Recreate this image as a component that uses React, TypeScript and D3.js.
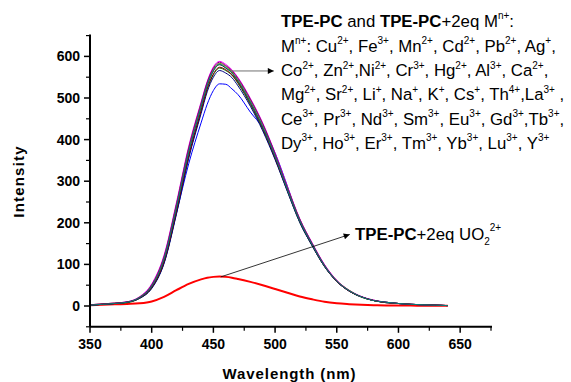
import React from "react";
import * as d3 from "d3";

const W = 571;
const H = 382;

const wavelengths = [350,360,370,380,390,400,410,420,430,440,445,450,455,460,465,470,480,490,500,510,520,530,540,550,560,570,580,590,600,610,620,630,640];

const bundleSpectra: number[][] = [
  [2,4,6,9,20,48,112,235,370,478,530,565,580,572,560,540,490,430,360,280,205,148,97,60,37,22,13,9,6,4,3,2,1],
  [3,5,7,10,22,53,122,248,384,490,540,575,588,581,568,549,499,440,368,287,210,152,100,62,38,23,14,9,6,4,3,2,1],
  [2,4,6,8,18,43,104,224,358,467,520,556,572,566,555,535,484,424,354,276,201,145,95,59,36,21,13,8,6,4,3,2,1],
  [3,5,7,9,21,50,117,242,378,485,535,569,583,576,563,544,495,436,365,284,208,150,98,61,38,22,13,9,6,4,3,2,1],
  [2,4,6,9,18,42,102,220,355,462,515,550,566,560,549,529,480,421,352,275,201,145,95,59,36,22,13,9,6,4,3,2,1],
  [3,5,7,10,21,51,119,244,380,487,538,572,586,578,566,547,497,438,366,285,209,151,99,61,37,22,14,9,6,4,3,2,1],
  [2,4,6,9,19,45,107,228,362,470,523,558,574,568,556,537,487,428,357,279,204,147,96,59,36,22,13,8,6,4,3,2,1],
  [2,4,6,9,20,48,113,236,371,479,531,566,581,573,561,541,490,431,360,280,205,148,97,60,37,22,13,9,6,4,3,2,1],
];
const bundleColors = ["#000000", "#FF00FF", "#008000", "#808000", "#000080", "#800080", "#800000", "#008080"];

const lowSpectrum = [2,4,6,9,19,44,104,222,342,440,485,518,534,533,522,508,466,428,368,288,203,146,96,59,36,22,13,8,6,4,3,2,1];
const lowColor = "#0000FF";

const uranylSpectrum = [2,3,4,5,6.5,11,22,38,53,64,68,70,71,70,68,65,58,50,41,32,23,16,10,6.5,4.5,3,2,1.5,1,1,0.5,0.5,0.5];
const uranylColor = "#FF0000";

const xTicks = [350, 400, 450, 500, 550, 600, 650];
const yTicks = [0, 100, 200, 300, 400, 500, 600];
const xMinorTicks = [375, 425, 475, 525, 575, 625, 675];
const yMinorTicks = [-50, 50, 150, 250, 350, 450, 550, 650];

const ionLines: [string, string][][] = [
  [["M", ""], ["n+", "sup"], [": Cu", ""], ["2+", "sup"], [", Fe", ""], ["3+", "sup"], [", Mn", ""], ["2+", "sup"], [", Cd", ""], ["2+", "sup"], [", Pb", ""], ["2+", "sup"], [", Ag", ""], ["+", "sup"], [",", ""]],
  [["Co", ""], ["2+", "sup"], [", Zn", ""], ["2+", "sup"], [",Ni", ""], ["2+", "sup"], [", Cr", ""], ["3+", "sup"], [", Hg", ""], ["2+", "sup"], [", Al", ""], ["3+", "sup"], [", Ca", ""], ["2+", "sup"], [",", ""]],
  [["Mg", ""], ["2+", "sup"], [", Sr", ""], ["2+", "sup"], [", Li", ""], ["+", "sup"], [", Na", ""], ["+", "sup"], [", K", ""], ["+", "sup"], [", Cs", ""], ["+", "sup"], [", Th", ""], ["4+", "sup"], [",La", ""], ["3+", "sup"], [" ,", ""]],
  [["Ce", ""], ["3+", "sup"], [", Pr", ""], ["3+", "sup"], [", Nd", ""], ["3+", "sup"], [", Sm", ""], ["3+", "sup"], [", Eu", ""], ["3+", "sup"], [", Gd", ""], ["3+", "sup"], [",Tb", ""], ["3+", "sup"], [",", ""]],
  [["Dy", ""], ["3+", "sup"], [", Ho", ""], ["3+", "sup"], [", Er", ""], ["3+", "sup"], [", Tm", ""], ["3+", "sup"], [", Yb", ""], ["3+", "sup"], [", Lu", ""], ["3+", "sup"], [", Y", ""], ["3+", "sup"]],
];

const FONT = "Arial, 'Liberation Sans', sans-serif";
const ANN = 16.8;
const SUP = 10;

export default function App() {
  const left = 90, right = 491, top = 35.6, bottom = 326.8;
  const x = d3.scaleLinear().domain([350, 675]).range([left, right]);
  const y = d3.scaleLinear().domain([-50, 650]).range([bottom, top]);

  const line = d3
    .line<number>()
    .x((_, i) => x(wavelengths[i]))
    .y((d) => y(d))
    .curve(d3.curveMonotoneX);

  const renderRuns = (runs: [string, string][]) =>
    runs.map(([t, k], i) =>
      k === "sup" ? (
        <tspan key={i} fontSize={SUP} dy={-7.5}>{t}</tspan>
      ) : (
        <tspan key={i} dy={i > 0 && runs[i - 1][1] === "sup" ? 7.5 : 0}>{t}</tspan>
      )
    );

  const a1s = [x(464), y(565)];
  const a1e = [x(499), y(565)];
  const a2s = [x(456), y(70)];
  const a2e = [x(560.5), y(172)];

  return (
    <svg width={W} height={H} style={{ position: "absolute", left: 0, top: 0, background: "#fff" }} fontFamily={FONT}>
      <defs>
        <marker id="arr" viewBox="0 0 10 10" refX="10" refY="5" markerWidth="8" markerHeight="6" markerUnits="userSpaceOnUse" orient="auto">
          <path d="M0,0 L10,5 L0,10 z" fill="#000" />
        </marker>
        <marker id="arr2" viewBox="0 0 10 10" refX="10" refY="5" markerWidth="9" markerHeight="6" markerUnits="userSpaceOnUse" orient="auto">
          <path d="M0,0 L10,5 L0,10 z" fill="#000" />
        </marker>
      </defs>

      {/* curves */}
      <path d={line(uranylSpectrum) || ""} fill="none" stroke={uranylColor} strokeWidth={2} />
      <path d={line(lowSpectrum) || ""} fill="none" stroke={lowColor} strokeWidth={1} />
      {bundleSpectra.map((s, i) => (
        <path key={i} d={line(s) || ""} fill="none" stroke={bundleColors[i]} strokeWidth={1} />
      ))}

      {/* axes */}
      <line x1={left} x2={left} y1={top - 1} y2={bottom} stroke="#000" strokeWidth={2} />
      <line x1={left} x2={right + 1} y1={bottom} y2={bottom} stroke="#000" strokeWidth={2} />
      {xTicks.map((t) => (
        <g key={t}>
          <line x1={x(t)} x2={x(t)} y1={bottom} y2={bottom + 6} stroke="#000" strokeWidth={1.5} />
          <text x={x(t)} y={349} textAnchor="middle" fontSize={14} fontWeight="bold">{t}</text>
        </g>
      ))}
      {xMinorTicks.map((t) => (
        <line key={t} x1={x(t)} x2={x(t)} y1={bottom} y2={bottom + 4} stroke="#000" strokeWidth={1.2} />
      ))}
      {yTicks.map((t) => (
        <g key={t}>
          <line x1={left - 6} x2={left} y1={y(t)} y2={y(t)} stroke="#000" strokeWidth={1.5} />
          <text x={80} y={y(t) + 5} textAnchor="end" fontSize={14} fontWeight="bold">{t}</text>
        </g>
      ))}
      {yMinorTicks.map((t) => (
        <line key={t} x1={left - 4} x2={left} y1={y(t)} y2={y(t)} stroke="#000" strokeWidth={1.2} />
      ))}

      <text x={289.5} y={379} textAnchor="middle" fontSize={15} fontWeight="bold" letterSpacing={0.9}>Wavelength (nm)</text>
      <text transform={`translate(24,181.5) rotate(-90)`} textAnchor="middle" fontSize={15} fontWeight="bold" letterSpacing={1.2}>Intensity</text>

      {/* arrows */}
      <line x1={a1s[0]} y1={a1s[1]} x2={a1e[0]} y2={a1e[1]} stroke="#707070" strokeWidth={1} markerEnd="url(#arr)" />
      <line x1={a2s[0]} y1={a2s[1]} x2={a2e[0]} y2={a2e[1]} stroke="#000" strokeWidth={0.8} markerEnd="url(#arr2)" />

      {/* annotation block */}
      <text x={281} y={26.7} fontSize={ANN}>
        <tspan fontWeight="bold">TPE-PC</tspan>
        <tspan> and </tspan>
        <tspan fontWeight="bold">TPE-PC</tspan>
        <tspan>+2eq M</tspan>
        <tspan fontSize={SUP} dy={-7.5}>n+</tspan>
        <tspan dy={7.5}>:</tspan>
      </text>
      {ionLines.map((runs, i) => (
        <text key={i} x={281} y={51.7 + i * 24.3} fontSize={ANN}>
          {renderRuns(runs)}
        </text>
      ))}

      <text x={355} y={240} fontSize={ANN}>
        <tspan fontWeight="bold">TPE-PC</tspan>
        <tspan>+2eq UO</tspan>
        <tspan fontSize={SUP} dy={5}>2</tspan>
        <tspan fontSize={SUP} dy={-14}>2+</tspan>
      </text>
    </svg>
  );
}
